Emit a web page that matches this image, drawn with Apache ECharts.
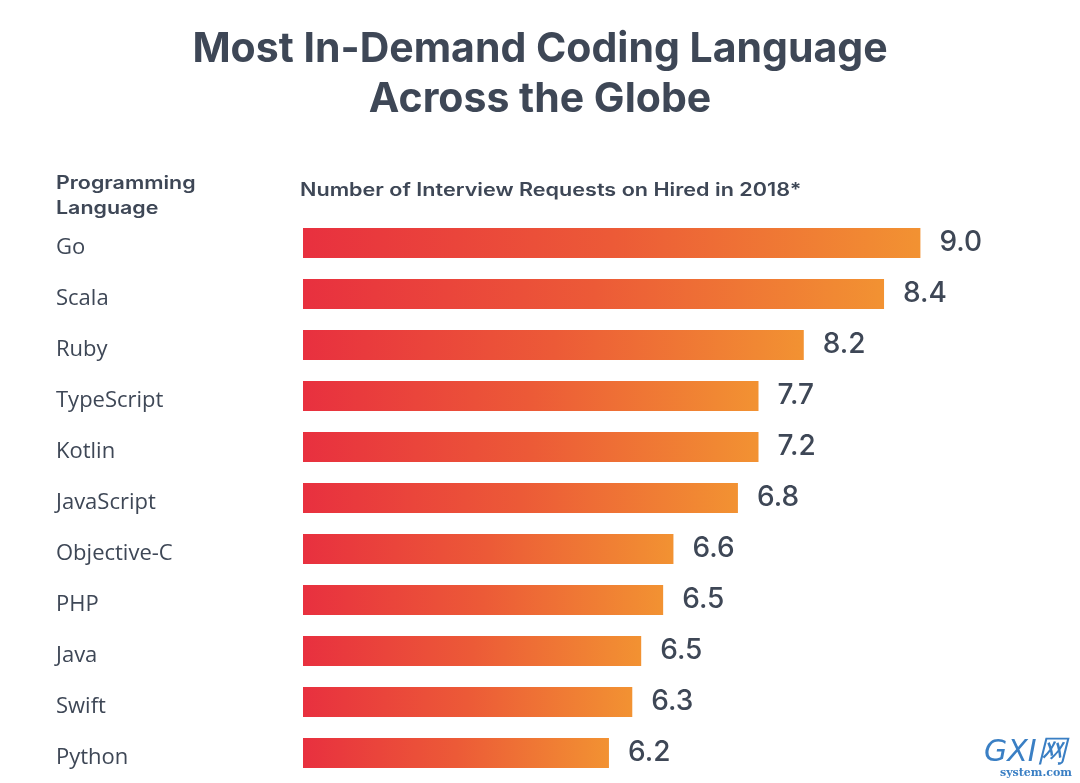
<!DOCTYPE html>
<html>
<head>
<meta charset="utf-8">
<script src="https://cdn.jsdelivr.net/npm/echarts@6/dist/echarts.min.js"></script>
<style>
  html, body { margin: 0; padding: 0; background: #ffffff; }
  #chart { width: 1080px; height: 783px; }
</style>
</head>
<body>
<div id="chart"></div>
<script>
// Categories (top to bottom)
const languages = ['Go', 'Scala', 'Ruby', 'TypeScript', 'Kotlin', 'JavaScript', 'Objective-C', 'PHP', 'Java', 'Swift', 'Python'];
// Printed values (labels)
const values = [9.0, 8.4, 8.2, 7.7, 7.2, 6.8, 6.6, 6.5, 6.5, 6.3, 6.2];
// Bar lengths as drawn in the picture (on the same scale where Go = 9.0)
const barLengths = [9.0, 8.47, 7.30, 6.64, 6.64, 6.34, 5.40, 5.25, 4.93, 4.80, 4.46];

const titleLines = ['Most In-Demand Coding Language', 'Across the Globe'];
const leftHeader = ['Programming', 'Language'];
const axisHeader = 'Number of Interview Requests on Hired in 2018*';

const textColor = '#3e4756';

const chart = echarts.init(document.getElementById('chart'), null, { renderer: 'canvas' });

const barGradient = new echarts.graphic.LinearGradient(0, 0, 1, 0, [
  { offset: 0, color: '#e8303f' },
  { offset: 0.5, color: '#ec5a37' },
  { offset: 1, color: '#f29232' }
]);

chart.setOption({
  backgroundColor: '#ffffff',
  animation: false,
  title: {
    text: titleLines.join('\n'),
    left: 'center',
    top: 20,
    padding: [5, 0, 5, 10],
    textStyle: {
      fontFamily: 'Inter',
      fontWeight: 'bold',
      fontSize: 41,
      lineHeight: 50,
      color: textColor
    }
  },
  graphic: [
    {
      type: 'text',
      x: 56,
      y: 171,
      scaleX: 1.19,
      style: {
        text: leftHeader.join('\n'),
        fontFamily: 'Inter',
        fontWeight: 600,
        fontSize: 18,
        lineHeight: 25,
        fill: textColor
      }
    },
    {
      type: 'text',
      x: 300,
      y: 182,
      scaleX: 1.2,
      style: {
        text: axisHeader,
        fontFamily: 'Inter',
        fontWeight: 600,
        fontSize: 18,
        fill: textColor
      }
    },
    {
      type: 'text',
      left: 984,
      top: 738,
      style: {
        text: 'GXI网',
        fontFamily: 'DejaVu Sans',
        fontStyle: 'italic',
        fontSize: 30,
        fill: '#3a7fc4'
      }
    },
    {
      type: 'text',
      left: 1000,
      top: 768,
      style: {
        text: 'system.com',
        fontFamily: 'DejaVu Serif',
        fontWeight: 'bold',
        fontSize: 11,
        fill: '#3a7fc4'
      }
    }
  ],
  grid: {
    left: 303,
    width: 686,
    top: 217.5,
    height: 561,
    containLabel: false
  },
  xAxis: {
    type: 'value',
    min: 0,
    max: 10,
    show: false
  },
  yAxis: {
    type: 'category',
    inverse: true,
    data: languages,
    axisLine: { show: false },
    axisTick: { show: false },
    splitLine: { show: false },
    axisLabel: {
      align: 'left',
      margin: 247,
      formatter: (v) => '{n|' + v + '}',
      rich: {
        n: {
          padding: [10, 0, 0, 0],
          fontFamily: 'Open Sans',
          fontSize: 22,
          color: textColor
        }
      }
    }
  },
  series: [
    {
      type: 'bar',
      data: barLengths,
      barWidth: 30,
      itemStyle: { color: barGradient },
      label: {
        show: true,
        position: 'right',
        distance: 19,
        formatter: (p) => values[p.dataIndex].toFixed(1),
        fontFamily: 'Inter',
        fontWeight: 500,
        fontSize: 28,
        color: textColor
      }
    }
  ]
});
</script>
</body>
</html>
